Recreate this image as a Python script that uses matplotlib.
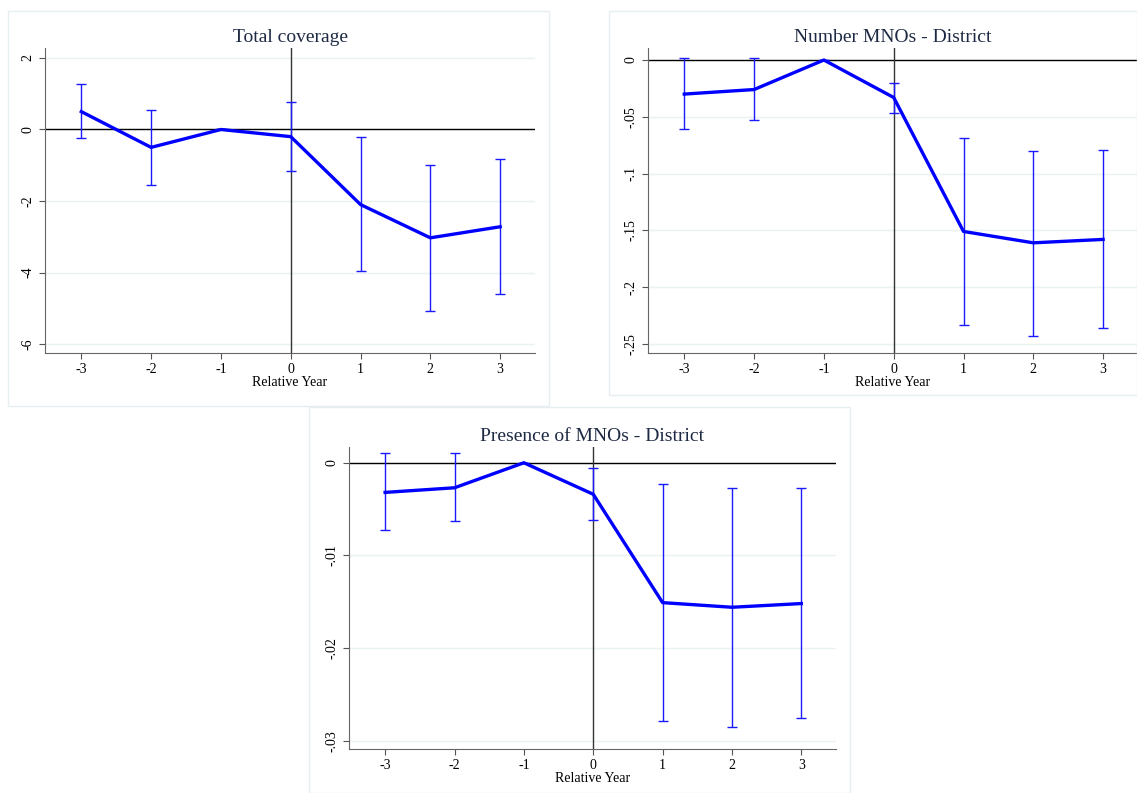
import matplotlib.pyplot as plt
from matplotlib.patches import Rectangle
import numpy as np

plt.rcParams['font.family'] = ['Liberation Serif', 'DejaVu Serif']

# relative years
years = [-3, -2, -1, 0, 1, 2, 3]

# Total coverage
cov_est = [0.50, -0.50, 0.00, -0.20, -2.10, -3.03, -2.72]
cov_lo = [-0.25, -1.55, 0.00, -1.17, -3.95, -5.07, -4.60]
cov_hi = [1.28, 0.55, 0.00, 0.78, -0.22, -1.00, -0.82]

# Number MNOs - District
num_est = [-0.030, -0.026, 0.000, -0.033, -0.151, -0.161, -0.158]
num_lo = [-0.061, -0.053, 0.000, -0.047, -0.233, -0.243, -0.236]
num_hi = [0.002, 0.002, 0.000, -0.020, -0.069, -0.080, -0.079]

# Presence of MNOs - District
pres_est = [-0.0032, -0.0027, 0.0, -0.0034, -0.0151, -0.0156, -0.0152]
pres_lo = [-0.0073, -0.0063, 0.0, -0.0062, -0.0279, -0.0285, -0.0276]
pres_hi = [0.0010, 0.0010, 0.0, -0.0006, -0.0023, -0.0027, -0.0027]

fig = plt.figure(figsize=(11.37, 7.93), dpi=100)

# panel frames (pixel boxes -> figure fractions)
W, H = 1137, 793
for x0, y0, x1, y1 in [(8, 11, 549, 406), (609, 11, 1137, 395), (309, 407, 850, 793)]:
    fig.patches.append(Rectangle((x0 / W, 1 - y1 / H), (x1 - x0) / W, (y1 - y0) / H,
                                 transform=fig.transFigure, fill=False,
                                 edgecolor='#e6eef0', linewidth=1))


def panel(rect, title, est, lo, hi, ylim, yticks, yticklabels):
    ax = fig.add_axes(rect)
    x = np.array(years)
    est = np.array(est)
    err = [est - np.array(lo), np.array(hi) - est]
    for t in yticks:
        ax.axhline(t, color='#eaf2f4', linewidth=1, zorder=0)
    ax.axhline(0, color='black', linewidth=1, zorder=1)
    ax.axvline(0, color='#333333', linewidth=1, zorder=1)
    ax.errorbar(x, est, yerr=err, fmt='none', ecolor='#1a1aff', elinewidth=1,
                capsize=3.5, capthick=1, zorder=2)
    ax.plot(x, est, color='#0000ff', linewidth=2.4, zorder=3)
    ax.set_xlim(-3.52, 3.5)
    ax.set_ylim(*ylim)
    ax.set_xticks(years)
    ax.set_xticklabels([str(v) for v in years], fontsize=10)
    ax.set_yticks(yticks)
    ax.set_yticklabels(yticklabels, fontsize=10, rotation=90, va='center')
    ax.tick_params(axis='both', color='#555555', length=4.5, width=0.8, pad=3)
    ax.spines['top'].set_visible(False)
    ax.spines['right'].set_visible(False)
    ax.spines['left'].set_color('#666666')
    ax.spines['bottom'].set_color('#666666')
    ax.set_xlabel('Relative Year', fontsize=10, labelpad=0)
    ax.set_title(title, fontsize=14, color='#1e2a44', pad=4)
    return ax


panel([0.0396, 0.5549, 0.4310, 0.3846], 'Total coverage',
      cov_est, cov_lo, cov_hi, (-6.25, 2.28),
      [2, 0, -2, -4, -6], ['2', '0', '-2', '-4', '-6'])
panel([0.5699, 0.5549, 0.4310, 0.3846], 'Number MNOs - District',
      num_est, num_lo, num_hi, (-0.258, 0.0106),
      [0, -0.05, -0.1, -0.15, -0.2, -0.25], ['0', '-.05', '-.1', '-.15', '-.2', '-.25'])
panel([0.3070, 0.0555, 0.4283, 0.3808], 'Presence of MNOs - District',
      pres_est, pres_lo, pres_hi, (-0.0309, 0.0017),
      [0, -0.01, -0.02, -0.03], ['0', '-.01', '-.02', '-.03'])

fig.savefig('out.png', dpi=100)
